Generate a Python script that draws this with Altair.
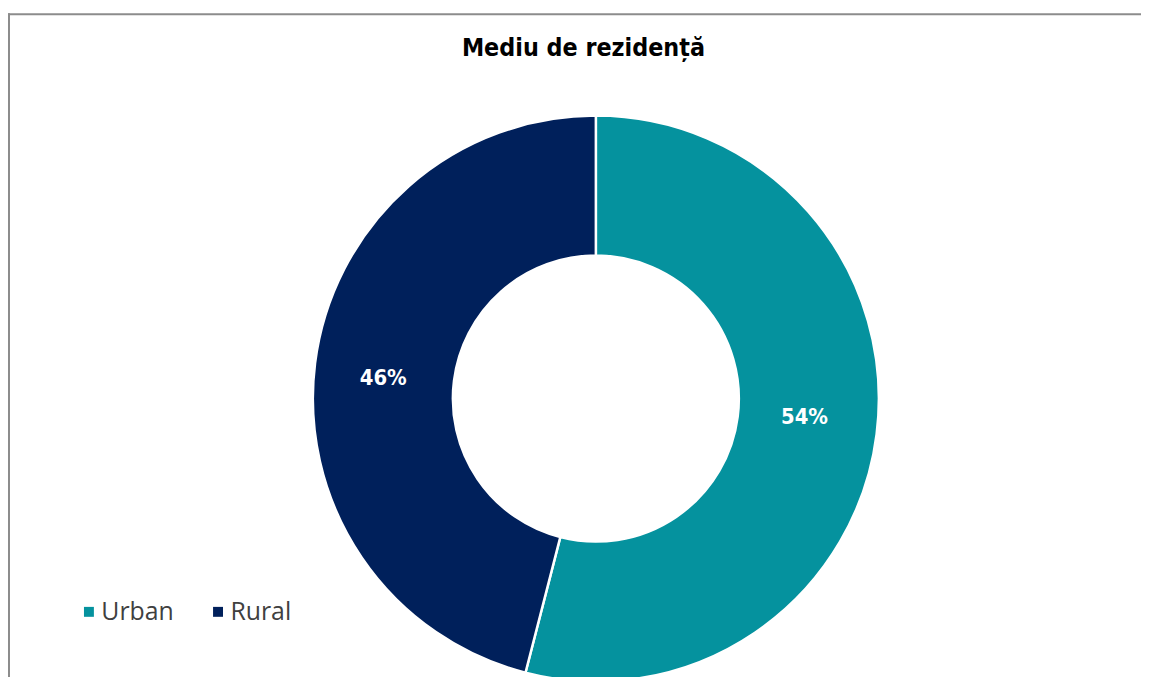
import altair as alt
import pandas as pd

categories = ["Urban", "Rural"]
shares = [54, 46]
labels = ["54%", "46%"]
colors = ["#05929E", "#00205B"]

df = pd.DataFrame({
    "category": categories,
    "share": shares,
    "label": labels,
    "order": list(range(len(categories))),
})

CX, CY = 592, 390

base = alt.Chart(df).encode(
    theta=alt.Theta("share:Q", stack=True),
    order=alt.Order("order:Q"),
)

arcs = base.mark_arc(
    innerRadius=144, outerRadius=285, stroke="white", strokeWidth=2.5
).encode(
    x=alt.value(CX),
    y=alt.value(CY + 1),
    color=alt.Color(
        "category:N",
        scale=alt.Scale(domain=categories, range=colors),
        sort=categories,
        legend=alt.Legend(
            title=None,
            orient="none",
            direction="horizontal",
            legendX=69,
            legendY=593,
            symbolType="square",
            symbolSize=100,
            symbolStrokeWidth=0,
            labelFont="Open Sans",
            labelFontSize=25,
            labelColor="#404040",
            labelOffset=0,
            columnPadding=32,
            padding=0,
        ),
    ),
)

texts = base.mark_text(
    radius=213, thetaOffset=-0.035, font="DejaVu Sans Condensed", fontSize=22,
    fontWeight="bold", color="white"
).encode(
    x=alt.value(CX - 2),
    y=alt.value(CY),
    text="label:N",
)

top_line = alt.Chart(df.head(1)).mark_rule(color="#8C8C8C", strokeWidth=2).encode(
    x=alt.value(0), x2=alt.value(1141), y=alt.value(4)
)
left_line = alt.Chart(df.head(1)).mark_rule(color="#8C8C8C", strokeWidth=2).encode(
    x=alt.value(1), y=alt.value(3), y2=alt.value(900)
)

chart = alt.layer(top_line, left_line, arcs, texts).properties(
    width=1141,
    height=669,
    padding=0,
    autosize=alt.AutoSizeParams(type="none"),
    title=alt.Title(
        "Mediu de rezidență",
        font="DejaVu Sans Condensed",
        fontSize=25,
        fontWeight="bold",
        color="#000000",
        anchor="middle",
        offset=0,
        baseline="alphabetic",
        dy=71,
        dx=9,
    ),
).configure_view(stroke=None)

chart.save("out.html", embed_options={"renderer": "svg", "actions": False})
